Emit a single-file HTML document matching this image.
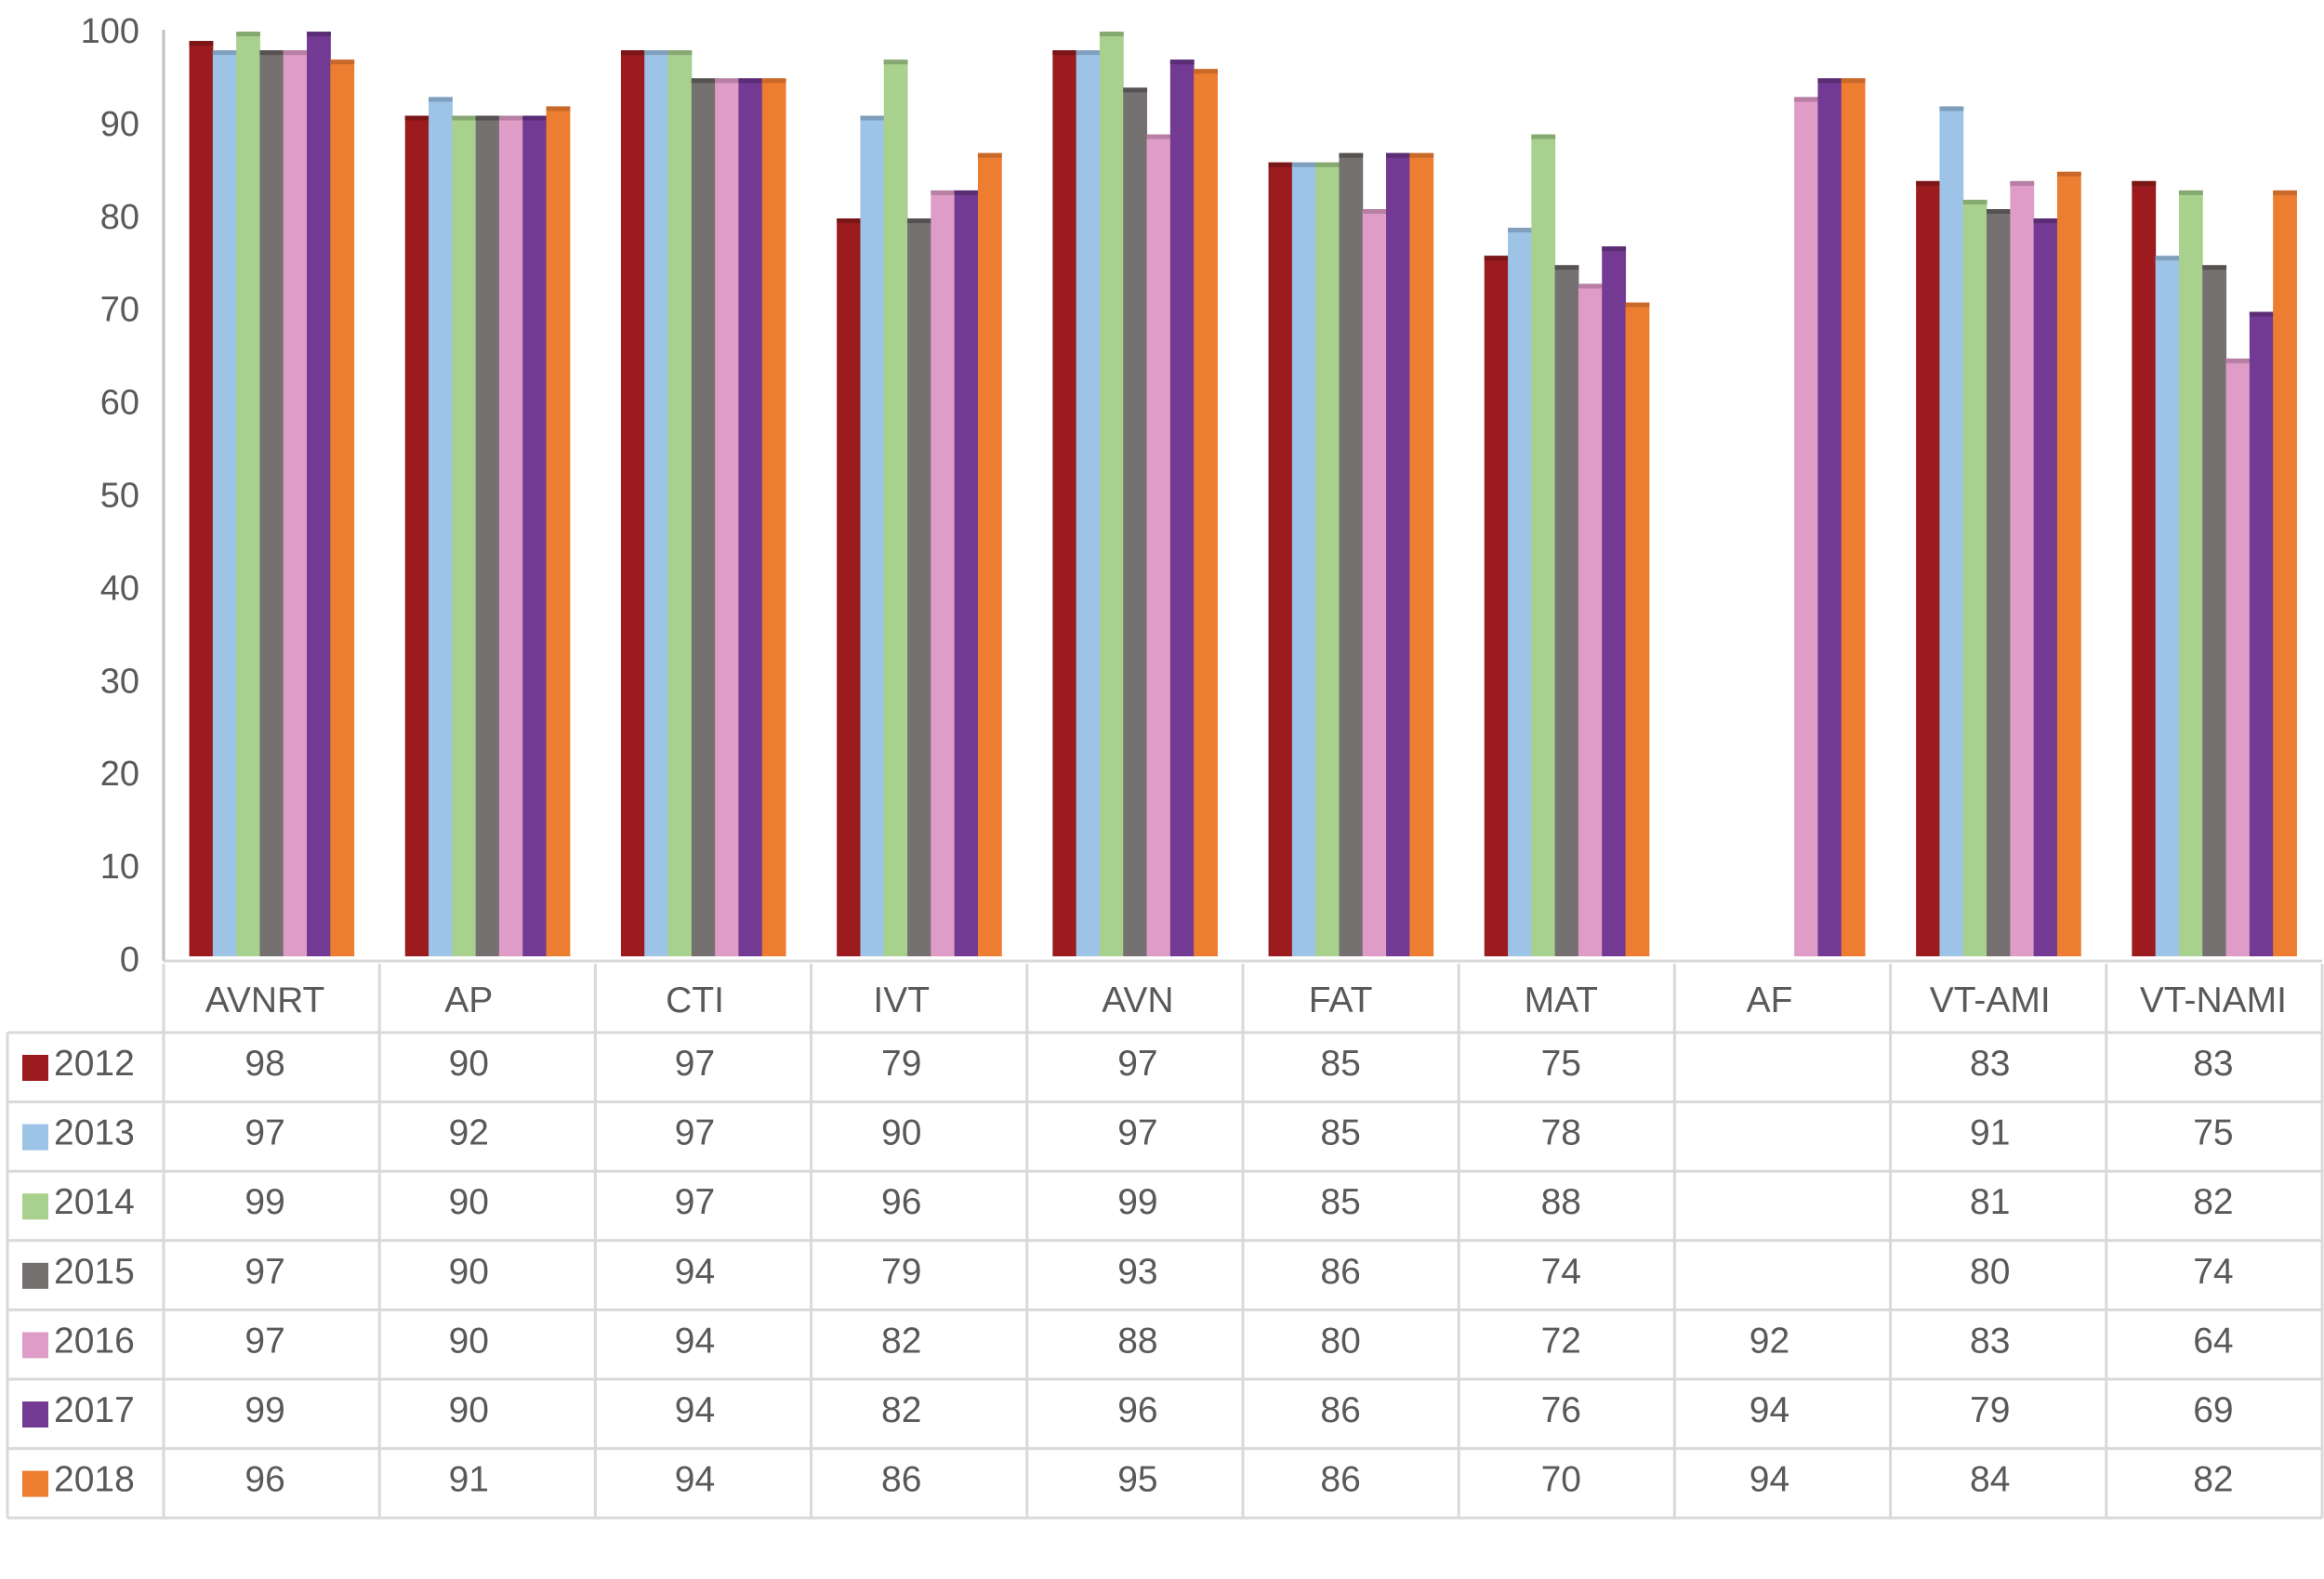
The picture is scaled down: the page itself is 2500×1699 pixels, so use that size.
<!DOCTYPE html>
<html><head><meta charset="utf-8"><style>
body{margin:0;background:#fff;width:2500px;height:1699px;overflow:hidden}
svg{display:block}
text{font-family:"Liberation Sans",sans-serif;fill:#595959}
</style></head><body>
<svg id="c" width="2500" height="1699"></svg>
<script>
const categories=["AVNRT","AP","CTI","IVT","AVN","FAT","MAT","AF","VT-AMI","VT-NAMI"];
const years=["2012","2013","2014","2015","2016","2017","2018"];
const colors=["#9B1B1F","#9DC3E6","#A9D18E","#767171","#DE9CC6","#733A93","#ED7D31"];
const caps=["#7a1518","#7f9fbd","#86a971","#565252","#b77fa3","#5a2d74","#c8692a"];
const s2012=[98,90,97,79,97,85,75,null,83,83];
const s2013=[97,92,97,90,97,85,78,null,91,75];
const s2014=[99,90,97,96,99,85,88,null,81,82];
const s2015=[97,90,94,79,93,86,74,null,80,74];
const s2016=[97,90,94,82,88,80,72,92,83,64];
const s2017=[99,90,94,82,96,86,76,94,79,69];
const s2018=[96,91,94,86,95,86,70,94,84,82];
const yTicks=[0,10,20,30,40,50,60,70,80,90,100];
const series=[s2012,s2013,s2014,s2015,s2016,s2017,s2018];
const NS="http://www.w3.org/2000/svg";
const svg=document.getElementById('c');
const X0=176,X1=2498,Y0=1029,YT=24;
const cw=(X1-X0)/categories.length;
const bw=25.3;
const y=v=>Y0-(v/100)*(Y0-YT);
const yl=v=>1031-(v/100)*(1031-32);
const txtShift=[-7,-20,-9,-19,3,-11,-6,-14,-9,-1];
function mk(t,a,p){const e=document.createElementNS(NS,t);for(const k in a)e.setAttribute(k,a[k]);(p||svg).appendChild(e);return e;}
let ax=mk('line',{x1:X0,y1:32,x2:X0,y2:Y0+5,stroke:'#BFBFBF','stroke-width':3});


yTicks.forEach(t=>{const e=mk('text',{x:150,y:yl(t)+14,'font-size':38,'text-anchor':'end'});e.textContent=t;

});
series.forEach((s,si)=>{s.forEach((v,ci)=>{if(v==null)return;
const bx=X0+ci*cw+cw/2-bw*3.5+si*bw;
const r=mk('rect',{x:bx,y:y(v),width:bw+0.5,height:Y0-y(v),fill:colors[si]});


const c=mk('rect',{x:bx,y:y(v),width:bw+0.5,height:5,fill:caps[si]});


});});
const rowTop=1037,hdrBot=1111,rh=74.6,tL=8;
const g=mk('g',{stroke:'#D9D9D9','stroke-width':3,fill:'none'});


mk('line',{x1:X0,y1:Y0+5,x2:X1,y2:Y0+5},g);
for(let i=0;i<=years.length;i++){const yy=hdrBot+i*rh;mk('line',{x1:tL,y1:yy,x2:X1,y2:yy},g);}
mk('line',{x1:tL,y1:hdrBot,x2:tL,y2:hdrBot+7*rh},g);
for(let i=0;i<=categories.length;i++){const xx=X0+i*cw;mk('line',{x1:xx,y1:rowTop,x2:xx,y2:hdrBot+7*rh},g);}
categories.forEach((c,ci)=>{const e=mk('text',{x:X0+ci*cw+cw/2+txtShift[ci],y:hdrBot-22,'font-size':39,'text-anchor':'middle'});e.textContent=c;

});
years.forEach((yr,si)=>{const ry=hdrBot+si*rh;
const sq=mk('rect',{x:24,y:ry+24,width:28,height:28,fill:colors[si]});


const t=mk('text',{x:58,y:ry+46,'font-size':39});t.textContent=yr;


series[si].forEach((v,ci)=>{if(v==null)return;const e=mk('text',{x:X0+ci*cw+cw/2+txtShift[ci],y:ry+46,'font-size':39,'text-anchor':'middle'});e.textContent=v;

});
});
</script>
</body></html>
